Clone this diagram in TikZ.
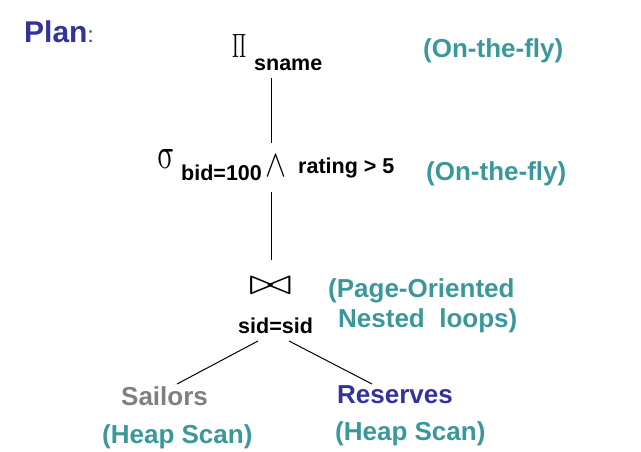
\documentclass[tikz,border=0pt]{standalone}
\usepackage{fontspec}
\usepackage{graphicx}
\setmainfont{Liberation Sans}
\definecolor{planblue}{RGB}{51,51,153}
\definecolor{noteteal}{RGB}{58,152,155}
\definecolor{sgrey}{RGB}{128,128,128}
\tikzset{
  lbl/.style={inner sep=0pt, anchor=base west, font=\fontsize{21.5}{24}\selectfont\bfseries},
  note/.style={inner sep=0pt, anchor=base west, text=noteteal, font=\fontsize{26}{30}\selectfont\bfseries},
  rel/.style={inner sep=0pt, anchor=base west, font=\fontsize{26}{30}\selectfont\bfseries},
  sym/.style={inner sep=0pt},
  edge/.style={line width=1pt, black}
}
\begin{document}
\begin{tikzpicture}[x=1pt,y=-1pt]
\useasboundingbox (0,0) rectangle (641,451);
% title
\node[inner sep=0pt, anchor=base west, text=planblue] (plan) at (24,42)
  {\fontsize{30}{34}\selectfont\bfseries Plan{\fontsize{22}{24}\selectfont\mdseries :}};
% projection
\node[sym] (pi) at (239,45.5) {\resizebox{14pt}{23pt}{$\Pi$}};
\node[lbl] (sname) at (254,70) {sname};
\node[note] (fly1) at (423,57) {(On-the-fly)};
% selection
\node[sym, xslant=-0.22, transform shape] (sigma) at (166.5,158.5) {\resizebox{19pt}{19pt}{$\sigma$}};
\node[lbl] (bid) at (181,180) {bid=100};
\node[sym] (and) at (275.5,165.5) {\resizebox{21pt}{21pt}{$\wedge$}};
\node[lbl] (rating) at (298,173) {rating > 5};
\node[note] (fly2) at (426,180) {(On-the-fly)};
% join
\node[sym] (join) at (270.5,285.5) {\resizebox{43pt}{17pt}{$\bowtie$}};
\node[lbl] (sid) at (238,333) {sid=sid};
\node[note] (pon1) at (328,297) {(Page-Oriented};
\node[note] (pon2) at (338,327) {Nested\ \ loops)};
% relations
\node[rel, text=sgrey] (sailors) at (121,405) {Sailors};
\node[note] (heap1) at (102,443) {(Heap Scan)};
\node[rel, text=planblue] (reserves) at (337,403) {Reserves};
\node[note] (heap2) at (335,440) {(Heap Scan)};
% connector end points
\coordinate (a1) at (271,78);
\coordinate (a2) at (271,143);
\coordinate (b1) at (271,192);
\coordinate (b2) at (271,260);
\coordinate (c1) at (258,341);
\coordinate (c2) at (177,384);
\coordinate (d1) at (289,341);
\coordinate (d2) at (372,384);
\draw[edge] (a1) -- (a2);
\draw[edge] (b1) -- (b2);
\draw[edge] (c1) -- (c2);
\draw[edge] (d1) -- (d2);
\end{tikzpicture}
\end{document}
